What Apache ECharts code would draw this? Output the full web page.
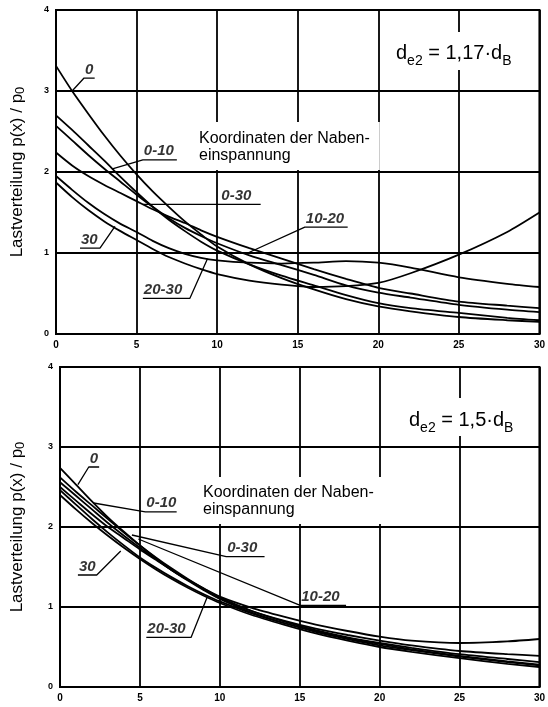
<!DOCTYPE html>
<html>
<head>
<meta charset="utf-8">
<script src="https://cdn.jsdelivr.net/npm/echarts@6/dist/echarts.min.js"></script>
<style>
html,body{margin:0;padding:0;background:#fff;}
#chart{width:548px;height:707px;}
</style>
</head>
<body>
<div id="chart"></div>
<script>
// x positions (mm along the seat)
const xPos = [0,1,2,3,4,5,6,7,8,9,10,12,14,16,18,20,22,25,28,30];
const xTicks = [0,5,10,15,20,25,30];
const yTicks = [0,1,2,3,4];

// Upper panel: d_e2 = 1,17 d_B
const top_0     = [3.31,3.0,2.72,2.45,2.2,1.97,1.76,1.57,1.39,1.23,1.08,0.86,0.69,0.55,0.43,0.34,0.28,0.21,0.17,0.15];
const top_0_10  = [2.70,2.52,2.33,2.14,1.94,1.75,1.57,1.41,1.27,1.14,1.03,0.86,0.72,0.6,0.48,0.38,0.32,0.26,0.2,0.17];
const top_10_20 = [2.57,2.39,2.21,2.04,1.88,1.72,1.57,1.43,1.31,1.21,1.12,0.97,0.85,0.73,0.6,0.51,0.45,0.36,0.3,0.27];
const top_0_30  = [2.24,2.08,1.95,1.84,1.74,1.64,1.54,1.45,1.37,1.28,1.2,1.06,0.93,0.8,0.68,0.57,0.5,0.4,0.35,0.32];
const top_20_30 = [1.95,1.78,1.62,1.48,1.36,1.26,1.15,1.06,0.99,0.94,0.91,0.88,0.87,0.88,0.9,0.88,0.82,0.7,0.62,0.58];
const top_30    = [1.87,1.69,1.53,1.39,1.27,1.16,1.05,0.95,0.87,0.8,0.74,0.66,0.61,0.58,0.59,0.63,0.75,0.98,1.26,1.5];

// Lower panel: d_e2 = 1,5 d_B
const bot_0     = [2.74,2.53,2.32,2.12,1.94,1.77,1.61,1.46,1.33,1.21,1.1,0.93,0.8,0.69,0.6,0.52,0.46,0.38,0.31,0.27];
const bot_0_10  = [2.62,2.44,2.27,2.1,1.93,1.77,1.62,1.48,1.35,1.23,1.12,0.95,0.82,0.71,0.62,0.55,0.49,0.41,0.35,0.31];
const bot_0_30  = [2.56,2.39,2.22,2.05,1.89,1.74,1.6,1.46,1.34,1.22,1.11,0.95,0.83,0.73,0.65,0.58,0.52,0.45,0.41,0.39];
const bot_10_20 = [2.5,2.33,2.16,2.0,1.86,1.72,1.59,1.46,1.34,1.23,1.13,0.99,0.88,0.78,0.7,0.63,0.58,0.55,0.57,0.6];
const bot_30    = [2.4,2.22,2.05,1.89,1.74,1.6,1.47,1.35,1.24,1.14,1.05,0.9,0.78,0.67,0.58,0.5,0.44,0.36,0.29,0.25];
const bot_20_30 = [2.46,2.28,2.1,1.93,1.77,1.62,1.49,1.37,1.26,1.16,1.07,0.92,0.8,0.7,0.61,0.54,0.47,0.39,0.32,0.28];

// Curve labels: [label, leader polyline in data coords (last two points = underline)]
const topLabels = [
  ['0',     [[1.0,3.0],[1.74,3.16],[2.4,3.16]]],
  ['0-10',  [[3.5,2.04],[5.39,2.15],[7.5,2.15]]],
  ['0-30',  [[5.4,1.6],[10.2,1.6],[12.7,1.6]]],
  ['10-20', [[11.9,1.0],[15.44,1.32],[18.1,1.32]]],
  ['30',    [[3.66,1.33],[2.73,1.06],[1.49,1.06]]],
  ['20-30', [[9.4,0.93],[8.31,0.44],[5.39,0.44]]]
];
const botLabels = [
  ['0',     [[1.12,2.53],[1.8,2.75],[2.45,2.75]]],
  ['0-10',  [[2.1,2.3],[5.34,2.19],[7.3,2.19]]],
  ['0-30',  [[4.5,1.9],[10.4,1.63],[12.8,1.63]]],
  ['10-20', [[4.9,1.85],[15.03,1.02],[17.9,1.02]]],
  ['30',    [[3.8,1.7],[2.3,1.4],[1.12,1.4]]],
  ['20-30', [[9.2,1.12],[8.2,0.62],[5.4,0.62]]]
];

const topCurves = [['0',top_0],['0-10',top_0_10],['10-20',top_10_20],['0-30',top_0_30],['20-30',top_20_30],['30',top_30]];
const botCurves = [['0',bot_0],['0-10',bot_0_10],['10-20',bot_10_20],['0-30',bot_0_30],['20-30',bot_20_30],['30',bot_30]];

const chart = echarts.init(document.getElementById('chart'), null, {renderer:'canvas'});

function xAxisCfg(gi){
  return {
    type:'value', gridIndex:gi, min:0, max:30, interval:5,
    axisLine:{show:true, lineStyle:{color:'#000', width:2}},
    axisTick:{show:false},
    splitLine:{show:true, lineStyle:{color:'#000', width:1.8}},
    axisLabel:{color:'#000', fontFamily:'Liberation Sans', fontWeight:'bold', fontSize:10, margin:6,
      formatter: v => xTicks.includes(v) ? String(v) : ''}
  };
}
function yAxisCfg(gi, gap){
  return {
    type:'value', gridIndex:gi, min:0, max:4, interval:1,
    name:'Lastverteilung p(x) / p{s|0}',
    nameLocation:'middle', nameGap:gap, nameRotate:90,
    nameTextStyle:{color:'#000', fontFamily:'Liberation Sans', fontSize:17,
      rich:{s:{fontSize:13, fontFamily:'Liberation Sans', color:'#000', padding:[7,0,0,0]}}},
    axisLine:{show:true, lineStyle:{color:'#000', width:2}},
    axisTick:{show:false},
    splitLine:{show:true, lineStyle:{color:'#000', width:1.8}},
    axisLabel:{color:'#000', fontFamily:'Liberation Sans', fontWeight:'bold', fontSize:9, margin:7,
      formatter: v => yTicks.includes(v) ? String(v) : ''}
  };
}

const series = [];
function addPanel(curves, labels, gi){
  curves.forEach(([name, vals]) => {
    series.push({
      type:'line', name:name, xAxisIndex:gi, yAxisIndex:gi,
      data: xPos.map((x,i) => [x, vals[i]]),
      smooth:0.25, symbol:'none',
      lineStyle:{color:'#000', width:1.8}, silent:true
    });
  });
  labels.forEach(([txt, pts]) => {
    series.push({
      type:'line', xAxisIndex:gi, yAxisIndex:gi, data:pts, symbol:'none', smooth:false,
      lineStyle:{color:'#000', width:1.3}, silent:true, clip:false
    });
  });
  series.push({
    type:'scatter', xAxisIndex:gi, yAxisIndex:gi, symbolSize:0, silent:true, clip:false,
    data: labels.map(([txt, pts]) => {
      const p = pts[pts.length-2][0] < pts[pts.length-1][0] ? pts[pts.length-2] : pts[pts.length-1];
      return {name:txt, value:p};
    }),
    label:{show:true, formatter:'{b}', position:[1,-1], align:'left', verticalAlign:'bottom',
      color:'#000', fontFamily:'Liberation Sans', fontStyle:'italic', fontWeight:'bold', fontSize:15}
  });
}
addPanel(topCurves, topLabels, 0);
addPanel(botCurves, botLabels, 1);

const formulaRich = {
  m:{fontSize:20, fontFamily:'Liberation Sans', color:'#000', lineHeight:30, verticalAlign:'middle'},
  s:{fontSize:14, fontFamily:'Liberation Sans', color:'#000', lineHeight:30, verticalAlign:'bottom'}
};

chart.setOption({
  animation:false,
  backgroundColor:'#fff',
  grid:[
    {left:56, top:10, right:8, bottom:373, show:true, borderColor:'#000', borderWidth:2, backgroundColor:'transparent'},
    {left:60, top:367, right:5, bottom:20, show:true, borderColor:'#000', borderWidth:2, backgroundColor:'transparent'}
  ],
  xAxis:[xAxisCfg(0), xAxisCfg(1)],
  yAxis:[yAxisCfg(0, 29), yAxisCfg(1, 33)],
  series: series,
  graphic:[
    {type:'text', left:392, top:32, z:100, style:{text:'{m|d}{s|e2}{m| = 1,17·d}{s|B}', rich:formulaRich,
      backgroundColor:'#fff', padding:[6,4,2,4]}},
    {type:'text', left:405, top:398, z:100, style:{text:'{m|d}{s|e2}{m| = 1,5·d}{s|B}', rich:formulaRich,
      backgroundColor:'#fff', padding:[7,4,1,4]}},
    {type:'text', left:195, top:122, z:100, style:{text:'Koordinaten der Naben-\neinspannung', fontSize:16, lineHeight:17,
      fontFamily:'Liberation Sans', fill:'#000', backgroundColor:'#fff', padding:[8,10,6,4]}},
    {type:'text', left:199, top:477, z:100, style:{text:'Koordinaten der Naben-\neinspannung', fontSize:16, lineHeight:17,
      fontFamily:'Liberation Sans', fill:'#000', backgroundColor:'#fff', padding:[7,8,6,4]}}
  ]
});
</script>
</body>
</html>
